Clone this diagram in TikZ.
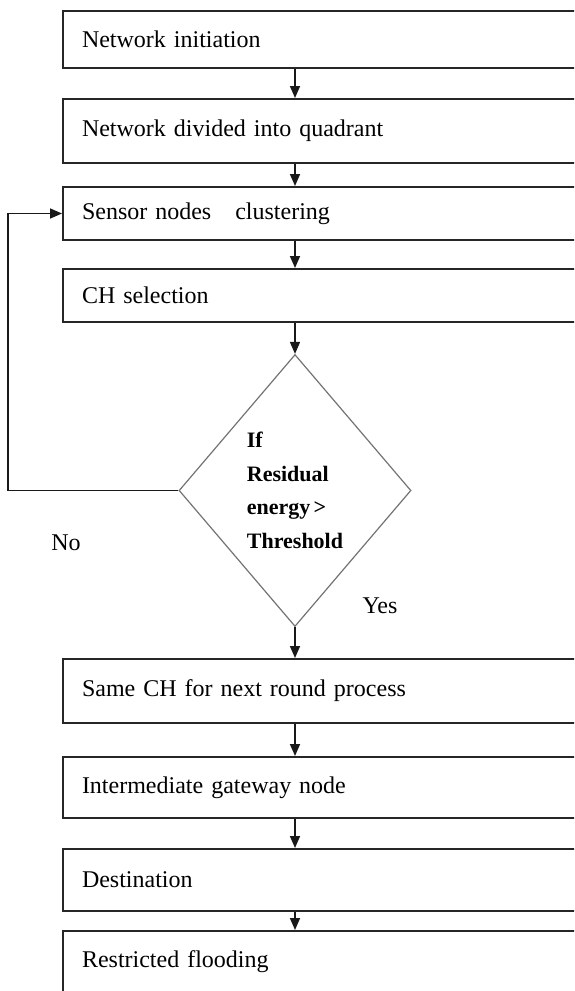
\documentclass[tikz,border=0pt]{standalone}
\usepackage{fontspec}
\setmainfont[WordSpace=0.6]{Liberation Serif}
\usepackage{tikz}
\usetikzlibrary{shapes,arrows,positioning,calc,arrows.meta}

\tikzset{
  stepbox/.style={draw=black!85, line width=1pt, anchor=north west, rectangle,
    text width=250pt, inner xsep=9.5pt, inner ysep=0pt, align=left,
    font=\fontsize{12}{14}\selectfont},
  decide/.style={draw=black!55, line width=0.6pt, diamond, aspect=0.853,
    minimum width=116pt, minimum height=136pt, inner sep=0pt, align=left,
    font=\fontsize{11}{16.8}\selectfont\bfseries},
  flow/.style={draw=black!90, line width=0.8pt, -{Triangle[length=6pt,width=5pt]}},
  tag/.style={font=\fontsize{12}{14}\selectfont}
}

\begin{document}
\begin{tikzpicture}[x=0.5pt,y=-0.5pt]
        \useasboundingbox (0,0) rectangle (574,991);
        \clip (0,0) rectangle (574,991);
        \node[stepbox, minimum height=28.5pt] (init) at (62,10) {Network initiation};
        \node[stepbox, minimum height=32pt] (quad) at (62,98) {Network divided into quadrant};
        \node[stepbox, minimum height=26.5pt] (clust) at (62,186) {Sensor nodes\ \ \ clustering};
        \node[stepbox, minimum height=26.5pt] (chsel) at (62,268) {CH selection};
        \node[decide] (check) at (295,490.5) {If\\Residual\\energy >\\Threshold};
        \node[stepbox, minimum height=32pt] (same) at (62,658) {Same CH for next round process};
        \node[stepbox, minimum height=30.5pt] (gate) at (62,756) {Intermediate gateway node};
        \node[stepbox, minimum height=31pt] (dest) at (62,848) {Destination};
        \node[stepbox, minimum height=31pt] (flood) at (62,930) {Restricted flooding};
        \node[tag] (no) at (66,543) {No};
        \node[tag] (yes) at (380,606) {Yes};
        \coordinate (back) at (8,490.5);
        \draw[flow] (init.south -| check) -- (quad.north -| check);
        \draw[flow] (quad.south -| check) -- (clust.north -| check);
        \draw[flow] (clust.south -| check) -- (chsel.north -| check);
        \draw[flow] (chsel.south -| check) -- (check.north);
        \draw[flow] (check.south) -- (same.north -| check);
        \draw[flow] (same.south -| check) -- (gate.north -| check);
        \draw[flow] (gate.south -| check) -- (dest.north -| check);
        \draw[flow] (dest.south -| check) -- (flood.north -| check);
        \draw[flow] (check.west) -- (back) |- (clust.west);
    \end{tikzpicture}
\end{document}
